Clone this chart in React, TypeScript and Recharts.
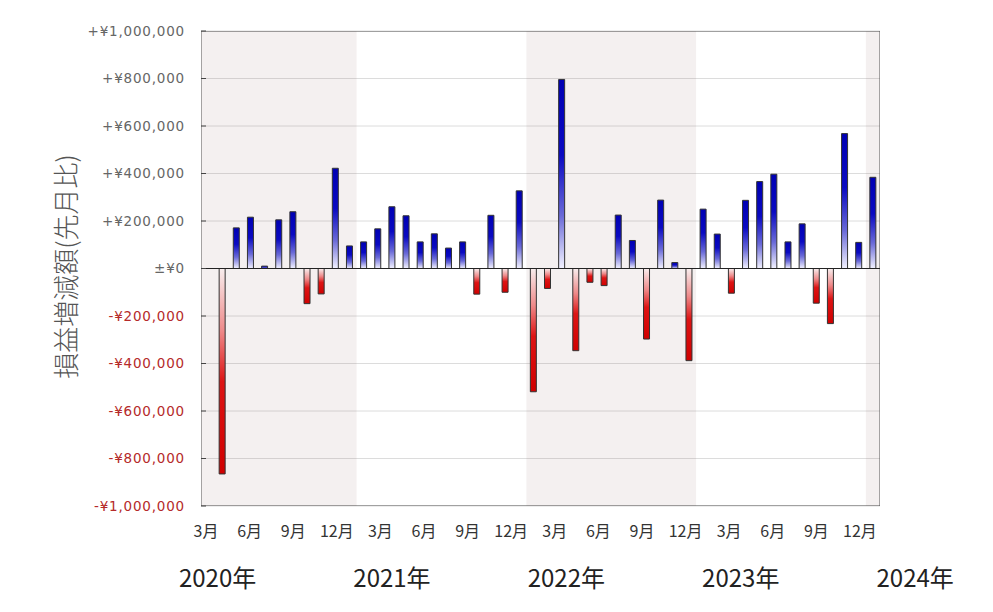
import { BarChart, Bar, Cell, XAxis, YAxis, CartesianGrid, ReferenceArea, ReferenceLine } from 'recharts';

// 月次の損益増減額 (先月比), 2020年3月 〜 2024年1月
const months = [
  '2020-03', '2020-04', '2020-05', '2020-06', '2020-07', '2020-08', '2020-09', '2020-10', '2020-11', '2020-12',
  '2021-01', '2021-02', '2021-03', '2021-04', '2021-05', '2021-06', '2021-07', '2021-08', '2021-09', '2021-10', '2021-11', '2021-12',
  '2022-01', '2022-02', '2022-03', '2022-04', '2022-05', '2022-06', '2022-07', '2022-08', '2022-09', '2022-10', '2022-11', '2022-12',
  '2023-01', '2023-02', '2023-03', '2023-04', '2023-05', '2023-06', '2023-07', '2023-08', '2023-09', '2023-10', '2023-11', '2023-12',
  '2024-01',
];
const diffs = [
  -865000, 171000, 216000, 10000, 205000, 239000, -148000, -107000, 422000, 95000,
  112000, 167000, 260000, 222000, 112000, 146000, 86000, 112000, -108000, 224000, -100000, 327000,
  -519000, -84000, 796000, -346000, -58000, -72000, 225000, 118000, -297000, 288000, 25000, -388000,
  250000, 145000, -104000, 287000, 366000, 397000, 112000, 188000, -146000, -232000, 568000, 110000,
  384000,
];
const monthLabels = ['3月', '6月', '9月', '12月', '3月', '6月', '9月', '12月', '3月', '6月', '9月', '12月', '3月', '6月', '9月', '12月'];
const yearLabels = ['2020年', '2021年', '2022年', '2023年', '2024年'];
const yTicks = [-1000000, -800000, -600000, -400000, -200000, 0, 200000, 400000, 600000, 800000, 1000000];
// shaded years (month index, Jan 2020 = 0)
const shadedYears = [[1, 12], [24, 36], [48, 49]];

const data = months.map((key, i) => {
  const [y, m] = key.split('-').map(Number);
  return { month: key, m: (y - 2020) * 12 + (m - 1) + 0.5, value: diffs[i] };
});

const W = 993;
const H = 612;
const margin = { top: 31, right: 113, left: 0, bottom: 0 };
const plotW = W - 201 - margin.right;
const qDomain = [-0.115, 15.46];
const qStep = plotW / (qDomain[1] - qDomain[0]);

const yen = (v: number) => {
  if (v === 0) return '±¥0';
  const s = '¥' + Math.abs(v).toLocaleString('en-US');
  return v > 0 ? '+' + s : '-' + s;
};

const YTick = (props: any) => {
  const { x, y, payload } = props;
  const v = payload.value;
  return (
    <text x={x} y={y} dy="0.36em" textAnchor="end" fontSize={13.5} letterSpacing={0.8}
      fontFamily="'DejaVu Sans', sans-serif" fill={v < 0 ? '#b52a2a' : '#666'}>
      {yen(v)}
    </text>
  );
};

const QTick = (props: any) => {
  const { x, payload } = props;
  const q = payload.value;
  const font = "'Noto Sans CJK JP', sans-serif";
  return (
    <g>
      <text x={x} y={537} textAnchor="middle" fontSize={16} fontFamily={font} fill="#333">
        {monthLabels[q]}
      </text>
      {q % 4 === 0 && (
        <text x={x + 11.6} y={587} textAnchor="middle" fontSize={24} fontFamily={font} fill="#222">
          {yearLabels[q / 4]}
        </text>
      )}
      {q === monthLabels.length - 1 && (
        <text x={x + qStep + 11.6} y={587} textAnchor="middle" fontSize={24} fontFamily={font} fill="#222">
          {yearLabels[yearLabels.length - 1]}
        </text>
      )}
    </g>
  );
};

const AxisTitle = (props: any) => {
  const { viewBox } = props;
  const cx = viewBox.x + 64;
  const cy = viewBox.y + viewBox.height / 2 - 2;
  return (
    <text x={cx} y={cy} textAnchor="middle" dominantBaseline="central" transform={`rotate(-90 ${cx} ${cy})`}
      fontSize={26} fontWeight={300} fontFamily="'Noto Sans CJK JP', sans-serif" fill="#555">
      損益増減額(先月比)
    </text>
  );
};

export default function App() {
  return (
    <div style={{ position: 'absolute', left: 0, top: 0, width: W, height: H, background: '#fff' }}>
      <BarChart width={W} height={H} data={data} margin={margin}>
        <defs>
          <linearGradient id="gPos" x1="0" y1="0" x2="0" y2="1">
            <stop offset="0%" stopColor="#0000b4" />
            <stop offset="40%" stopColor="#0a0ac2" />
            <stop offset="72%" stopColor="#6a6ad8" />
            <stop offset="100%" stopColor="#f2f2ff" />
          </linearGradient>
          <linearGradient id="gNeg" x1="0" y1="0" x2="0" y2="1">
            <stop offset="0%" stopColor="#f8eeee" />
            <stop offset="30%" stopColor="#ee8a8a" />
            <stop offset="55%" stopColor="#dd1414" />
            <stop offset="100%" stopColor="#d00000" />
          </linearGradient>
        </defs>
        {shadedYears.map(([a, b]) => (
          <ReferenceArea key={a} xAxisId="m" x1={a} x2={b} y1={-1000000} y2={1000000}
            fill="rgba(145,105,105,0.1)" fillOpacity={1} stroke="none" ifOverflow="hidden" />
        ))}
        <CartesianGrid vertical={false} stroke="#dcdcdc" xAxisId="m" />
        <XAxis xAxisId="m" dataKey="m" type="number" domain={[1, 49]} allowDataOverflow hide />
        <XAxis xAxisId="q" dataKey="m" type="number" domain={qDomain} allowDataOverflow
          ticks={monthLabels.map((_, i) => i)} interval={0} height={106}
          axisLine={false} tickLine={false} tick={<QTick />} />
        <YAxis type="number" domain={[-1000000, 1000000]} ticks={yTicks} interval={0} width={201}
          axisLine={false} tickLine={{ stroke: '#444' }} tickSize={-5} tickMargin={21}
          tick={<YTick />} label={<AxisTitle />} />
        <Bar xAxisId="m" dataKey="value" barSize={6} stroke="#333" strokeWidth={1} isAnimationActive={false}>
          {data.map((d) => (
            <Cell key={d.month} fill={d.value >= 0 ? 'url(#gPos)' : 'url(#gNeg)'} />
          ))}
        </Bar>
        <ReferenceLine xAxisId="m" y={0} stroke="#222" strokeWidth={1} />
        <ReferenceArea xAxisId="m" x1={1} x2={49} y1={-1000000} y2={1000000}
          fill="none" stroke="#555" strokeWidth={1} ifOverflow="hidden" />
      </BarChart>
    </div>
  );
}
